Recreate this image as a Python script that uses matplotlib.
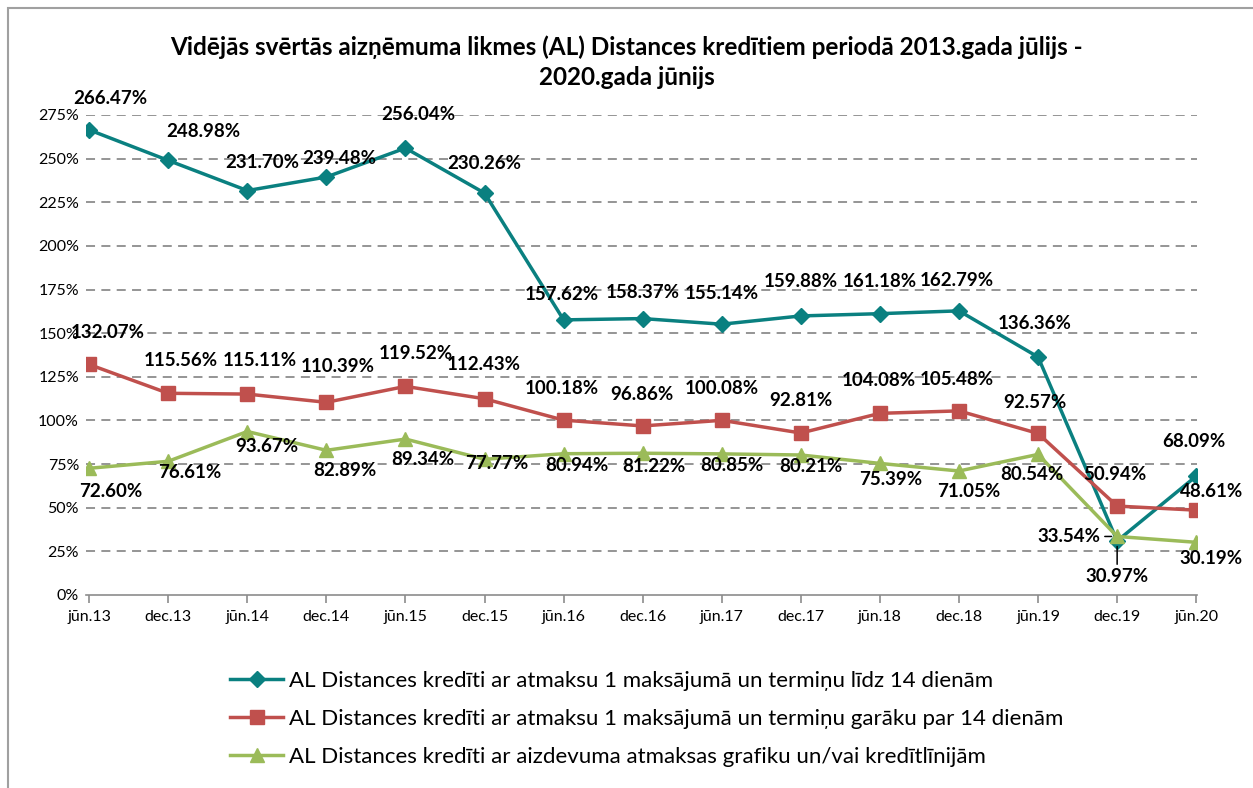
import numpy as np
import matplotlib
matplotlib.use("Agg")
from matplotlib import pyplot as plt
from matplotlib.patches import Rectangle

plt.rcParams['font.family'] = ['Lato', 'DejaVu Sans']

periods = ["jūn.13", "dec.13", "jūn.14", "dec.14", "jūn.15", "dec.15", "jūn.16", "dec.16",
           "jūn.17", "dec.17", "jūn.18", "dec.18", "jūn.19", "dec.19", "jūn.20"]

short_14 = [266.47, 248.98, 231.70, 239.48, 256.04, 230.26, 157.62, 158.37,
            155.14, 159.88, 161.18, 162.79, 136.36, 30.97, 68.09]
long_14 = [132.07, 115.56, 115.11, 110.39, 119.52, 112.43, 100.18, 96.86,
           100.08, 92.81, 104.08, 105.48, 92.57, 50.94, 48.61]
schedule = [72.60, 76.61, 93.67, 82.89, 89.34, 77.77, 80.94, 81.22,
            80.85, 80.21, 75.39, 71.05, 80.54, 33.54, 30.19]

names = ["AL Distances kredīti ar atmaksu 1 maksājumā un termiņu līdz 14 dienām",
         "AL Distances kredīti ar atmaksu 1 maksājumā un termiņu garāku par 14 dienām",
         "AL Distances kredīti ar aizdevuma atmaksas grafiku un/vai kredītlīnijām"]

# label offsets in pixels (dx, dy up)
off_short = [(21, 31), (35, 29), (15, 28), (13, 18), (13, 34), (0, 30), (-2, 25), (0, 26),
             (0, 31), (0, 34), (0, 32), (-2, 30), (-3, 33), (0, -36), (-2, 35)]
off_long = [(19, 32), (13, 33), (12, 34), (11, 36), (10, 33), (-1, 34), (-2, 32), (-1, 31),
            (0, 32), (0, 33), (-1, 33), (-2, 31), (-3, 31), (-2, 32), (15, 19)]
off_sched = [(22, -23), (22, -11), (20, -15), (18, -20), (17, -20), (12, -4), (13, -12), (11, -13),
             (10, -12), (10, -12), (11, -16), (10, -21), (-6, -20), (-48, 0), (15, -16)]

teal = '#0A8080'
red = '#C0504D'
green = '#9BBB59'

fig = plt.figure(figsize=(12.53, 7.88), dpi=100)
W, H = 1253, 788
ax = fig.add_axes([86 / W, 1 - 595 / H, (1197 - 86) / W, (595 - 115) / H])

x = np.arange(len(periods))
ax.plot(x, short_14, color=teal, lw=2.5, marker='D', ms=8, label=names[0], zorder=3)
ax.plot(x, long_14, color=red, lw=2.5, marker='s', ms=10, label=names[1], zorder=3)
ax.plot(x, schedule, color=green, lw=2.5, marker='^', ms=10, label=names[2], zorder=3)

ax.set_ylim(0, 275)
ax.set_yticks(np.arange(0, 276, 25))
ax.set_yticklabels([f"{v}%" for v in range(0, 276, 25)], fontsize=11.5)
ax.set_xticks(x)
ax.set_xticklabels(periods, fontsize=11.5)
for s in ['left', 'right', 'top']:
    ax.spines[s].set_visible(False)
ax.spines['bottom'].set_color('#8C8C8C')
ax.spines['bottom'].set_linewidth(1.2)
ax.spines['bottom'].set_zorder(4)
ax.tick_params(axis='y', length=0, pad=5)
ax.tick_params(axis='x', length=6, color='#8C8C8C', width=1.2, pad=5)
ax.set_axisbelow(True)
for v in range(25, 276, 25):
    ax.axhline(v, color='#8C8C8C', lw=1.3, ls=(0, (5, 3.5)), zorder=1)
ax.set_xlim(-0.04, len(periods) - 1 + 0.01)

def labels(vals, offs, special=None):
    for i, (v, o) in enumerate(zip(vals, offs)):
        kw = {}
        if special is not None and i in special:
            kw = dict(arrowprops=dict(arrowstyle='-', color='black', lw=1.1, shrinkA=1, shrinkB=4))
        ax.annotate(f"{v:.2f}%", (i, v), xytext=o, textcoords='offset pixels',
                    ha='center', va='center', fontsize=13.5, fontweight='bold',
                    color='black', zorder=5, annotation_clip=False, **kw)

labels(short_14, off_short, special=[13])
labels(long_14, off_long)
labels(schedule, off_sched, special=[13])

fig.text(0.5, 1 - 62 / H, "Vidējās svērtās aizņēmuma likmes (AL) Distances kredītiem periodā 2013.gada jūlijs -\n2020.gada jūnijs",
         ha='center', va='center', fontsize=17.5, fontweight='bold', linespacing=1.35)

fig.legend(loc='upper left', bbox_to_anchor=(230 / W, 1 - 671 / H), frameon=False,
           fontsize=16, handlelength=2.4, handletextpad=0.25, labelspacing=0.8,
           borderpad=0, borderaxespad=0)

fig.add_artist(Rectangle((8 / W, -0.1), 1.2, 1 - 8 / H + 0.1, transform=fig.transFigure,
                         fill=False, edgecolor='#A0A0A0', lw=1.5))

fig.savefig('out.png', dpi=100)
